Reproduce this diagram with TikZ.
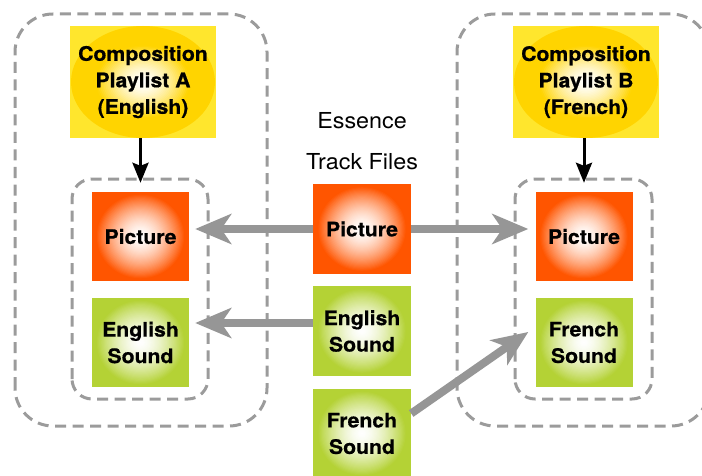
\documentclass[tikz,border=0pt]{standalone}
\usepackage{fontspec}
\setmainfont{TeX Gyre Heros}[FakeStretch=1.06, BoldFeatures={FakeBold=0.6}]
\usetikzlibrary{arrows.meta}

\definecolor{boxorange}{RGB}{255,85,0}
\definecolor{boxgreen}{RGB}{180,210,53}
\definecolor{boxgold}{RGB}{255,212,0}
\definecolor{boxyellow}{RGB}{255,230,45}
\definecolor{linkgray}{RGB}{150,150,150}
\definecolor{framegray}{RGB}{155,155,155}

% glow: concentric ellipses from white in the centre to #1,
% #2/#3 = outer x/y radius in pt, #4 = share of the radius where #1 is reached
\newcommand\glowrings[4]{%
  \foreach \k in {0,...,40}{%
    \pgfmathsetmacro\glowt{1-\k/40}%
    \pgfmathsetmacro\glowm{100*min(1,\glowt/#4)^1.6}%
    \fill[#1!\glowm!white] (path picture bounding box.center)
      ellipse [x radius=\glowt*#2pt, y radius=\glowt*#3pt];
  }}

\tikzset{
  frame/.style={draw=framegray, line width=3pt, dash pattern=on 11pt off 6.5pt},
  label/.style={inner sep=0pt, align=center, font=\bfseries\fontsize{20}{26.5}\selectfont},
  playlist/.style={label, fill=boxyellow, minimum width=146pt, minimum height=112pt,
    path picture={\glowrings{boxgold}{72}{56}{0.66}}},
  track/.style={label, minimum width=97pt, minimum height=89pt},
  picturetrack/.style={track, fill=boxorange, path picture={\glowrings{boxorange}{46}{44}{0.97}}},
  soundtrack/.style={track, fill=boxgreen, path picture={\glowrings{boxgreen}{46}{44}{0.97}}},
  link/.style={draw=linkgray, line width=8pt, -{Stealth[length=36pt,width=30pt,inset=10pt]}},
  cue/.style={draw=black, line width=3pt, -{Stealth[length=20pt,width=16pt,inset=3pt]}}
}

\begin{document}
\begin{tikzpicture}[x=1pt, y=1pt]
\useasboundingbox (0,0) rectangle (702,475);
\clip (0,0) rectangle (702,475);

% outer and inner grouping frames
\draw[frame, rounded corners=38pt] (15,49) rectangle (267,461);
\draw[frame, rounded corners=38pt] (457,49) rectangle (709,461);
\draw[frame, rounded corners=20pt] (72,76) rectangle (208,296);
\draw[frame, rounded corners=20pt] (515,76) rectangle (652,296);

% composition playlists
\node[playlist] (plA) at (143,393) {Composition\\Playlist A\\(English)};
\node[playlist] (plB) at (586,393) {Composition\\Playlist B\\(French)};

% tracks referenced by each playlist
\node[picturetrack] (picL) at (140.5,238.5) {Picture};
\node[soundtrack] (enL) at (140.5,132.5) {English\\Sound};
\node[picturetrack] (picR) at (584,238.5) {Picture};
\node[soundtrack] (frR) at (584,132.5) {French\\Sound};

% essence track files
\node[inner sep=0pt, align=center, font=\fontsize{22}{41}\selectfont] (essence) at (362,334.3) {Essence\\Track Files};
\node[picturetrack, minimum width=98pt, minimum height=90pt] (picM) at (362,246) {Picture};
\node[soundtrack, minimum width=98pt, minimum height=90pt] (enM) at (362,144) {English\\Sound};
\node[soundtrack, minimum width=98pt, minimum height=90pt] (frM) at (362,41.5) {French\\Sound};

% playlist to track references
\draw[cue, shorten >=9pt] (picL.north |- plA.south) -- (picL.north);
\draw[cue, shorten >=9pt] (picR.north |- plB.south) -- (picR.north);

% essence reuse
\draw[link, shorten >=6pt] (picM.west) -- (picM.west -| picL.east);
\draw[link, shorten >=7pt] (picM.east) -- (picM.east -| picR.west);
\draw[link, shorten >=6pt] ([yshift=8pt]enM.west) -- ([yshift=8pt]enM.west -| enL.east);
\draw[link] ([yshift=20pt]frM.east) -- ([xshift=-7pt,yshift=10.5pt]frR.west);
\end{tikzpicture}
\end{document}
